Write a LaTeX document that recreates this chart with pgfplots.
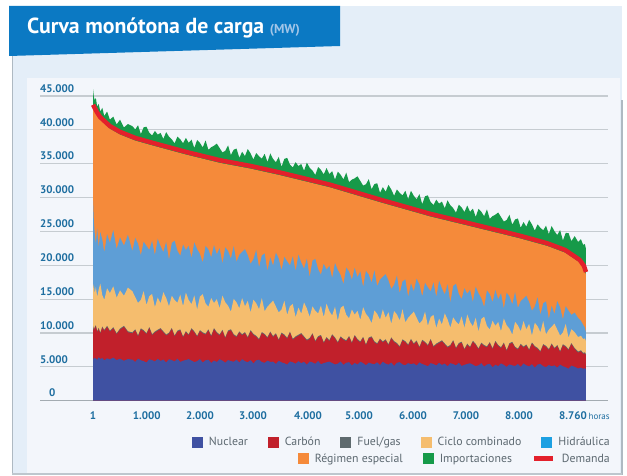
\documentclass[border=0pt]{standalone}
\usepackage{pgfplots}
\pgfplotsset{compat=1.18}
\usepackage{pgfplotstable}
\usepackage{fontspec}
\setmainfont{PT Sans}
\definecolor{nucc}{HTML}{3F51A2}
\definecolor{carc}{HTML}{C1202B}
\definecolor{fuec}{HTML}{5E6A6E}
\definecolor{ccc}{HTML}{F5BD6E}
\definecolor{hidc}{HTML}{1CA0E2}
\definecolor{hida}{HTML}{5E9ED6}
\definecolor{rec}{HTML}{F58A3A}
\definecolor{impc}{HTML}{169A49}
\definecolor{demc}{HTML}{E3202B}
\definecolor{tickc}{HTML}{1E6EA0}
\definecolor{legc}{HTML}{5C6870}
\definecolor{gridc}{HTML}{C6CCD1}
\definecolor{basec}{HTML}{A3ABB1}
\definecolor{bannerc}{HTML}{0B79C3}
\definecolor{outerc}{HTML}{E4EEF8}
\definecolor{innerc}{HTML}{F3F6FB}
\definecolor{borderc}{HTML}{AEB9C2}
\definecolor{mwc}{HTML}{A3C6E8}

% cumulative tops of the layers (MW) by hour of the sorted year
\pgfplotstableread{
h nuc car fue cc hid imp
1 6300 10900 11050 16500 29500 46000
15 6100 10300 10450 17200 26500 44900
30 6350 10700 10850 15800 24800 44350
50 6200 11000 11150 16800 23200 44700
75 6050 10100 10250 15300 25400 43400
100 6400 10600 10750 16400 22600 43850
130 6150 9900 10050 17300 24900 42700
165 6300 10800 10950 15600 23800 43250
200 5950 10300 10450 14900 21900 42050
250 6250 10900 11050 16600 24600 42700
300 6100 10200 10350 15900 23300 41500
360 6350 10700 10850 16900 25200 41950
420 6000 9800 9950 15200 22400 40800
480 6200 10500 10650 16300 24100 41500
550 5900 10900 11050 15500 22900 40350
620 6150 10100 10250 16700 24500 40850
700 6060 9940 10090 16160 22100 40540
750 5730 10400 10550 15300 24050 40050
800 6210 9490 9640 14440 23180 40670
850 5970 10530 10680 14890 21470 39370
900 5850 10270 10420 16190 23480 40370
950 5640 9810 9960 14130 22850 40460
1000 6120 10720 10870 15430 22270 39570
1050 6000 9680 9830 15760 23620 39180
1100 5790 10070 10220 13820 21490 39830
1150 6180 10330 10480 15240 23920 39300
1200 5870 10560 10710 14380 22810 39540
1250 6070 10090 10240 16030 21940 38660
1300 5650 9630 9780 15170 23470 39660
1350 6130 9890 10040 13950 20800 38990
1400 6000 10590 10740 15490 23290 38600
1450 5790 9480 9630 14860 23620 38000
1500 6210 10190 10340 14480 22150 39000
1550 5720 10380 10530 15660 21400 38610
1600 5900 9330 9480 13960 23050 38010
1650 6020 10110 10260 15970 22240 38810
1700 6140 9650 9800 14870 22870 38080
1750 5920 10550 10700 14250 21080 38540
1800 5710 10090 10240 15540 23380 37320
1850 5830 9430 9580 13480 22380 38500
1900 6150 10270 10420 15380 21680 38070
1950 5640 9940 10090 15720 20380 37410
2000 5970 9740 9890 14370 22860 38430
2050 6050 10380 10530 13870 22340 37050
2100 5570 9460 9610 15170 21160 37430
2150 5930 10560 10710 14420 22980 37650
2200 5720 9970 10120 15000 21620 37960
2250 6130 9630 9780 13650 22520 37310
2300 5920 10320 10470 15530 20240 36660
2350 5610 9200 9350 14540 22650 36900
2400 6000 10220 10370 14020 22110 37700
2450 5850 10400 10550 13150 20980 36270
2500 5750 9660 9810 15040 22840 37070
2550 6050 9380 9530 14520 20500 37230
2600 5630 10080 10230 13650 21530 35870
2650 6130 9670 9820 15170 21950 36760
2700 5830 9980 10130 13940 22380 36120
2750 5680 9240 9390 14740 21480 37160
2800 6000 10260 10410 13030 20220 36520
2850 5490 9720 9870 14910 20890 35630
2900 5960 9440 9590 14400 22270 36580
2950 6050 8960 9110 13520 19700 36090
3000 5710 9980 10130 15160 21440 35750
3050 5590 9700 9850 13210 21750 36460
3100 5910 9230 9380 13890 19170 35250
3150 5730 10050 10200 14340 21160 36520
3200 5760 9380 9530 14780 19960 35700
3250 5430 9810 9960 13900 21880 35210
3300 5900 8880 9030 13030 20990 36000
3350 5660 9900 10050 13470 19250 34540
3400 5530 9620 9770 14760 21240 35720
3450 5320 9150 9300 12680 20580 35860
3500 5790 10040 10190 13960 19980 34870
3550 5670 8980 9130 14290 21310 34450
3600 5450 9350 9500 12330 19150 35230
3650 5840 9590 9740 13740 21560 34650
3700 5530 9830 9980 12860 20420 34950
3750 5740 9350 9500 14500 19490 33970
3800 5310 8870 9020 13630 20970 35150
3850 5790 9110 9260 12390 18240 34410
3900 5660 9810 9960 13920 20680 33990
3950 5450 8680 8830 13280 20950 33330
4000 5860 9380 9530 12880 19430 34500
4050 5380 9550 9700 14050 18620 34080
4100 5550 8490 8640 12330 20220 33420
4150 5670 9250 9400 14340 19350 34360
4200 5780 8780 8930 13220 19920 33460
4250 5570 9660 9810 12590 18090 33900
4300 5350 9190 9340 13880 20350 32660
4350 5470 8510 8660 11810 19300 33820
4400 5790 9340 9490 13700 18560 33370
4450 5280 8990 9140 14030 17210 32690
4500 5600 8770 8920 12680 19650 33680
4550 5690 9400 9550 12170 19080 32280
4600 5200 8470 8620 13460 17860 32640
4650 5560 9550 9700 12710 19630 32840
4700 5340 8950 9100 13280 18230 33130
4750 5760 8600 8750 11920 19100 32450
4800 5540 9290 9440 13810 16790 31760
4850 5240 8160 8310 12820 19170 31960
4900 5620 9180 9330 12310 18600 32710
4950 5470 9350 9500 11440 17440 31230
5000 5370 8620 8770 13330 19270 31990
5050 5670 8330 8480 12820 16910 32110
5100 5240 9030 9180 11950 17900 30700
5150 5750 8610 8760 13480 18300 31540
5200 5470 8920 9070 12250 18690 30860
5250 5320 8180 8330 13060 17770 31870
5300 5640 9200 9350 11350 16480 31190
5350 5130 8650 8800 13240 17110 30270
5400 5600 8370 8520 12730 18470 31190
5450 5690 7900 8050 11860 15860 30680
5500 5350 8910 9060 13510 17600 30320
5550 5230 8630 8780 11560 17910 31000
5600 5550 8150 8300 12250 15330 29760
5650 5370 8980 9130 12700 17320 31000
5700 5510 8310 8460 13150 16120 30260
5750 5180 8740 8890 12270 18040 29750
5800 5650 7810 7960 11400 17150 30510
5850 5410 8830 8980 11850 15410 29030
5900 5280 8550 8700 13140 17400 30190
5950 5070 8080 8230 11070 16740 30320
6000 5540 8970 9120 12360 16140 29320
6050 5420 7910 8060 12680 17470 28900
6100 5200 8280 8430 10730 15310 29680
6150 5590 8520 8670 12130 17720 29100
6200 5280 8770 8920 11260 16580 29400
6250 5490 8300 8450 12900 15680 28420
6300 5060 7840 7990 12020 17190 29590
6350 5540 8080 8230 10790 14490 28850
6400 5410 8790 8940 12310 16960 28430
6450 5200 7670 7820 11680 17260 27770
6500 5610 8370 8520 11280 15760 28950
6550 5130 8560 8710 12440 14990 28530
6600 5300 7500 7650 10730 16610 27870
6650 5420 8270 8420 12730 15780 28810
6700 5530 7810 7960 11620 16380 27900
6750 5320 8700 8850 10980 14580 28360
6800 5100 8240 8390 12260 16860 27140
6850 5220 7570 7720 10190 15850 28320
6900 5540 8410 8560 12070 15130 27900
6950 5030 8070 8220 12400 13820 27240
7000 5350 7860 8010 11040 16280 28250
7050 5440 8500 8650 10520 15740 26870
7100 4950 7580 7730 11810 14550 27250
7150 5310 8670 8820 11050 16350 27470
7200 5090 8080 8230 11620 14980 27790
7250 5510 7740 7890 10260 15870 27130
7300 5290 8440 8590 12140 13570 26460
7350 4990 7320 7470 11150 15950 26680
7400 5370 8350 8500 10630 15380 27460
7450 5220 8540 8690 9760 14220 26000
7500 5120 7810 7960 11640 16060 26770
7550 5420 7540 7690 11120 13700 26910
7600 4990 8240 8390 10250 14690 25530
7650 5500 7840 7990 11770 15090 26380
7700 5220 8150 8300 10540 15490 25700
7750 5060 7420 7570 11340 14560 26710
7800 5390 8450 8600 9620 13280 26030
7850 4870 7920 8070 11510 13920 25120
7900 5340 7650 7800 10990 15280 26040
7950 5430 7180 7330 10120 12670 25530
8000 5090 8210 8360 11760 14390 25170
8050 4960 7940 8090 9800 14670 25850
8100 5270 7470 7620 10490 12070 24600
8150 5080 8300 8450 10930 14020 25800
8200 5210 7640 7790 11380 12800 25020
8250 4870 8080 8230 10500 14700 24470
8300 5330 7160 7310 9620 13780 25190
8350 5080 8190 8340 10070 12010 23670
8400 4940 7920 8070 11350 13970 24780
8450 4720 7450 7600 9280 13290 24740
8500 5180 8350 8500 10560 12670 23570
8560 5000 7600 7750 10100 13000 24300
8620 4750 7100 7250 9400 12200 23450
8670 4900 7300 7450 9600 11800 23850
8710 4700 6900 7050 9100 11200 23000
8740 4800 7000 7150 9200 10800 23150
8760 4600 6700 6850 8800 10100 22400
}\gen

\pgfplotsset{
  legsq/.style={legend image code/.code={\fill[##1, draw=none] (0pt,-5.5pt) rectangle (11pt,5.5pt);}},
  legline/.style={legend image code/.code={\draw[##1, line width=5pt] (0pt,0pt) -- (19pt,0pt);}},
  mylegend/.style={legend style={draw=none, fill=none, inner sep=0pt,
      font=\fontsize{11.8}{14}\selectfont, text=legc,
      nodes={inner sep=0pt},
      /tikz/every odd column/.append style={column sep=6pt},
      /tikz/every even column/.append style={column sep=20pt}}},
  mybox/.style={at={(40pt,74.3pt)}, anchor=south west, scale only axis,
      width=568pt, height=314.9pt, xmin=-942, xmax=9151, ymin=0, ymax=46500}
}

\begin{document}
\begin{tikzpicture}[x=1pt,y=1pt]
\useasboundingbox (0,0) rectangle (627,475);
\fill[white] (0,0) rectangle (627,475);
\fill[outerc] (12,0) rectangle (622,469);
\fill[innerc] (27,2) rectangle (620,397);
\draw[borderc, line width=1.2pt] (12.6,0) -- (12.6,428);
\draw[borderc, line width=2pt] (622,0) -- (622,375);
\draw[borderc!80, line width=1.6pt] (12,0.8) -- (622,0.8);
\fill[bannerc] (9,469) -- (340,469) -- (340,429) -- (9,419) -- cycle;
\node[anchor=base west, inner sep=0pt, text=white, font=\bfseries\fontsize{21.8}{26}\selectfont] at (27,441)
  {Curva monótona de carga {\fontsize{13}{15}\selectfont\color{mwc}(MW)}};

\begin{axis}[mybox,
  axis line style={draw=none},
  major tick length=0pt,
  scaled y ticks=false, scaled x ticks=false,
  ymajorgrids, grid style={gridc, line width=1.1pt},
  extra y ticks={0}, extra y tick labels={},
  extra y tick style={grid style={basec, line width=1.5pt}},
  ytick={0,5000,10000,15000,20000,25000,30000,35000,40000,45000},
  yticklabels={\hspace*{9pt}0,5.000,10.000,15.000,20.000,25.000,30.000,35.000,40.000,45.000},
  yticklabel style={anchor=south west, inner sep=0pt, yshift=3.4pt,
      font=\bfseries\fontsize{11}{13}\selectfont, text=tickc},
  xtick={1,954,1901,2843,3820,4727,5686,6628,7570,8529},
  xticklabels={1,1.000,2.000,3.000,4.000,5.000,6.000,7.000,8.000,{8.760\rlap{\,\mdseries\fontsize{9}{11}\selectfont horas}}},
  xticklabel style={anchor=north, inner sep=0pt, yshift=-11pt,
      font=\bfseries\fontsize{11}{13}\selectfont, text=tickc},
  mylegend, legend columns=5,
  legend style={at={(1.0035,-0.132)}, anchor=east},
]
% Importaciones (top of the stack)
\addplot[draw=none, fill=impc, forget plot] table[x=h, y=imp] {\gen} \closedcycle;
% Regimen especial (top)
\addplot[draw=none, fill=rec, forget plot] coordinates {
(1,43300) (30,42830) (70,42200) (125,41500) (200,40920) (300,40150) (480,39300)
(750,38400) (1070,37650) (1670,36300) (2260,35100) (2800,34260) (3320,33300)
(4210,31500) (5100,29300) (5990,27200) (6880,25400) (7590,23950) (8070,22850)
(8390,21850) (8500,21230) (8650,20380) (8725,19490) (8760,18600)} \closedcycle;
\addplot[draw=none, fill=hida, forget plot] table[x=h, y=hid] {\gen} \closedcycle;
\addplot[draw=none, fill=ccc, forget plot] table[x=h, y=cc] {\gen} \closedcycle;
\addplot[draw=none, fill=fuec, forget plot] table[x=h, y=fue] {\gen} \closedcycle;
\addplot[draw=none, fill=carc, forget plot] table[x=h, y=car] {\gen} \closedcycle;
\addplot[draw=none, fill=nucc, forget plot] table[x=h, y=nuc] {\gen} \closedcycle;
% Demanda
\addplot[demc, line width=4.5pt, line cap=butt, line join=round, forget plot] coordinates {
(1,43700) (30,43230) (70,42600) (125,41900) (200,41320) (300,40550) (480,39700)
(750,38800) (1070,38050) (1670,36700) (2260,35500) (2800,34660) (3320,33700)
(4210,31900) (5100,29700) (5990,27600) (6880,25800) (7590,24350) (8070,23250)
(8390,22250) (8500,21630) (8650,20780) (8725,19890) (8760,19000)};
\addlegendimage{legsq, fill=nucc}\addlegendentry{Nuclear}
\addlegendimage{legsq, fill=carc}\addlegendentry{Carbón}
\addlegendimage{legsq, fill=fuec}\addlegendentry{Fuel/gas}
\addlegendimage{legsq, fill=ccc}\addlegendentry{Ciclo combinado}
\addlegendimage{legsq, fill=hidc}\addlegendentry{Hidráulica}
\end{axis}

\begin{axis}[mybox, hide axis, mylegend, legend columns=3,
  legend style={at={(1.0035,-0.185)}, anchor=east}]
\addlegendimage{legsq, fill=rec}\addlegendentry{Régimen especial}
\addlegendimage{legsq, fill=impc}\addlegendentry{Importaciones}
\addlegendimage{legline, draw=demc}\addlegendentry{Demanda}
\end{axis}
\end{tikzpicture}
\end{document}
